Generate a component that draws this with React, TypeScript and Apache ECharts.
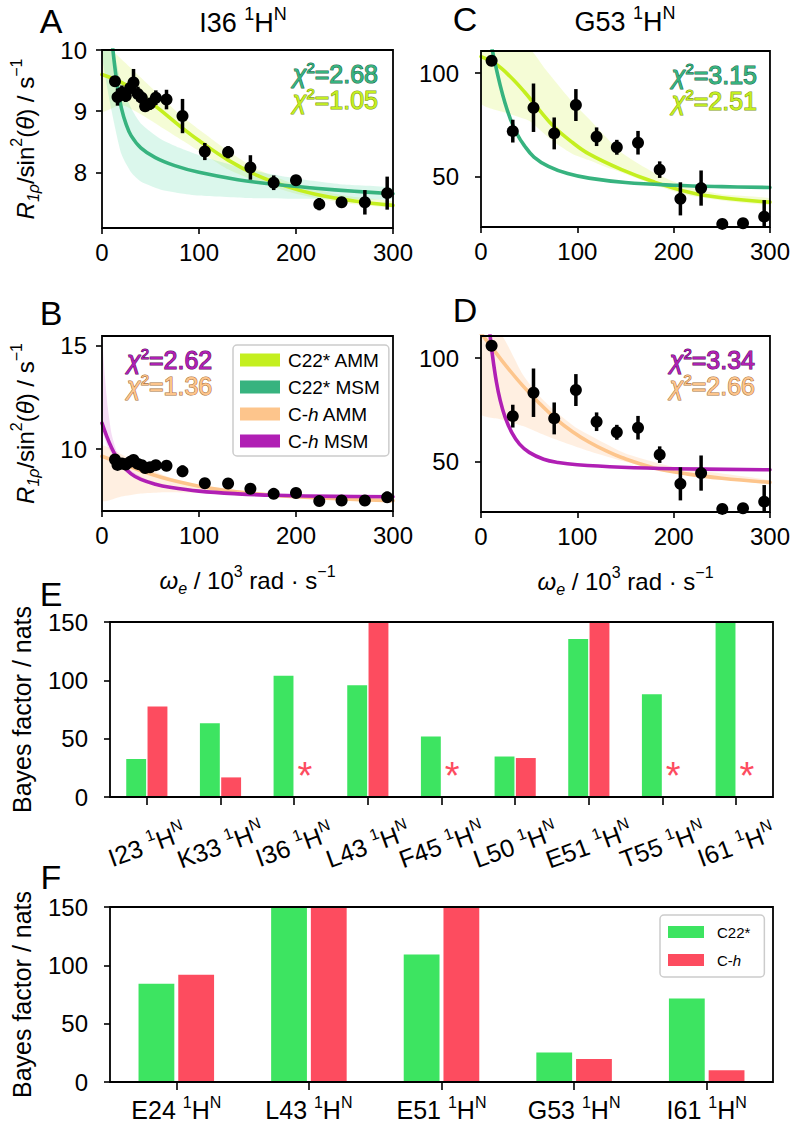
import React, { useEffect, useRef } from 'react';
import * as echarts from 'echarts';

const FONT = "'Liberation Sans', Arial, Helvetica, sans-serif";

// ---------- colours
const C22_AMM = '#c4ef1f';
const C22_MSM = '#37b37f';
const CH_AMM = '#fdc58c';
const CH_MSM = '#b01fb4';
const BAND_C22_AMM = 'rgba(208, 242, 70, 0.22)';
const BAND_C22_MSM = 'rgba(90, 220, 170, 0.22)';
const BAND_CH_AMM = 'rgba(253, 190, 130, 0.24)';
const BAND_CH_MSM = 'rgba(205, 80, 205, 0.2)';
const GREEN = '#3de461';
const RED = '#fd4c5f';

// ---------- measured points, I36 1HN (omega_e in 10^3 rad/s)
const i36X = [13.4, 16, 20.5, 24.5, 29, 32.5, 37, 41, 44.5, 49.5, 55.5, 66.5, 83, 106, 130, 153, 177, 200, 224, 247, 271, 294];
const i36Y = [9.49, 9.23, 9.3, 9.25, 9.38, 9.47, 9.28, 9.22, 9.08, 9.12, 9.22, 9.19, 8.92, 8.34, 8.33, 8.08, 7.83, 7.87, 7.48, 7.51, 7.51, 7.66];
const i36Err = [0.05, 0.14, 0.12, 0.1, 0.1, 0.22, 0.12, 0.1, 0.08, 0.1, 0.12, 0.16, 0.28, 0.14, 0.1, 0.2, 0.12, 0.07, 0.1, 0.05, 0.2, 0.27];

// ---------- measured points, G53 1HN
const g53X = [11, 33, 54.5, 76, 98.5, 120, 141, 163, 185.5, 207, 228.5, 250.5, 272, 294];
const g53Y = [106, 72, 83.3, 70.9, 84.6, 69.3, 64.2, 66.4, 53.4, 39.3, 44.5, 27.2, 27.5, 30.7];
const g53Err = [1.5, 5.5, 11.7, 7.7, 7.7, 4.5, 3.6, 5.7, 4, 8, 8.5, 1.5, 1.5, 8];

// ---------- fitted curves
const aAmmX = [0, 20, 40, 60, 80, 100, 130, 160, 190, 220, 260, 300];
const aAmmY = [9.6, 9.47, 9.27, 9.02, 8.76, 8.52, 8.2, 7.95, 7.77, 7.64, 7.53, 7.46];
const aMsmX = [10, 13, 16, 20, 25, 30, 40, 55, 75, 100, 140, 180, 220, 260, 300];
const aMsmY = [10.2, 9.75, 9.4, 9.05, 8.78, 8.6, 8.4, 8.24, 8.11, 8.0, 7.88, 7.8, 7.74, 7.69, 7.65];
const aMsmBandX = [0, 10, 20, 30, 40, 60, 80, 100, 150, 200, 250, 300];
const aMsmBandLo = [9.9, 9.0, 8.3, 8.0, 7.85, 7.72, 7.66, 7.62, 7.58, 7.57, 7.57, 7.57];
const aMsmBandHi = [10.3, 10.1, 9.45, 9.05, 8.8, 8.55, 8.4, 8.28, 8.05, 7.9, 7.8, 7.74];
const aAmmBandX = [0, 20, 40, 60, 80, 100, 130, 160, 200, 250, 300];
const aAmmBandLo = [9.0, 9.1, 8.95, 8.75, 8.55, 8.35, 8.05, 7.85, 7.65, 7.5, 7.43];
const aAmmBandHi = [10.1, 9.85, 9.55, 9.25, 8.95, 8.7, 8.35, 8.05, 7.8, 7.62, 7.52];

const bAmmX = [0, 20, 40, 60, 80, 100, 130, 160, 200, 250, 300];
const bAmmY = [9.65, 9.3, 8.95, 8.65, 8.4, 8.2, 7.98, 7.83, 7.69, 7.58, 7.5];
const bMsmX = [0, 5, 10, 15, 20, 30, 40, 55, 70, 100, 140, 180, 240, 300];
const bMsmY = [11.25, 10.6, 10.05, 9.6, 9.25, 8.8, 8.53, 8.3, 8.15, 7.96, 7.83, 7.76, 7.71, 7.69];
const bMsmBandX = [0, 3, 6, 10, 15, 20, 30, 45, 60];
const bMsmBandLo = [10.9, 10.5, 10.1, 9.8, 9.4, 9.1, 8.7, 8.4, 8.2];
const bMsmBandHi = [15.4, 13.5, 12.0, 10.7, 9.9, 9.45, 8.95, 8.55, 8.3];
const bAmmBandX = [0, 20, 40, 60, 80, 100, 150, 200, 300];
const bAmmBandLo = [7.5, 7.7, 7.85, 7.9, 7.9, 7.88, 7.75, 7.62, 7.45];
const bAmmBandHi = [10.15, 9.75, 9.25, 8.8, 8.45, 8.25, 7.95, 7.75, 7.55];

const cMsmX = [10, 15, 20, 25, 30, 37, 45, 55, 70, 90, 112, 150, 200, 250, 300];
const cMsmY = [115, 104, 94, 85.5, 78.5, 71, 65, 59.5, 55, 51.5, 49.3, 47.2, 45.9, 45.2, 44.8];
const cAmmX = [0, 15, 30, 45, 60, 76, 95, 112, 146, 180, 215, 250, 300];
const cAmmY = [108, 104.5, 98.5, 91, 82.5, 74, 66.5, 61, 53.4, 47.4, 42.6, 39.8, 37.7];
const cAmmBandX = [0, 25, 50, 65, 78, 95, 112, 130, 146, 180, 215, 250, 300];
const cAmmBandLo = [85.5, 81, 77, 71, 66, 61, 58, 54.5, 52, 46, 41, 38.5, 36.5];
const cAmmBandHi = [115, 115, 112, 103, 95.5, 86, 78, 69, 61.5, 51.8, 45, 41.5, 39.5];

const dMsmX = [9, 12, 16, 20, 25, 32, 40, 50, 65, 80, 100, 146, 200, 300];
const dMsmY = [113, 101, 88.5, 79.5, 71.5, 64, 58.5, 54.5, 51.2, 49.6, 48.5, 47.3, 46.6, 46.1];
const dAmmX = [0, 10, 26, 43.5, 60, 78, 95, 112, 130, 146, 180, 215, 250, 300];
const dAmmY = [112, 106, 96.3, 86.6, 78.5, 70.6, 64.5, 59.5, 55.2, 52, 47, 44, 42, 40];
const dAmmBandX = [0, 20, 43.5, 60, 78, 100, 120, 150, 200, 300];
const dAmmBandLo = [73, 70.5, 67.2, 64, 60.7, 57, 54, 50, 45, 39];
const dAmmBandHi = [115, 112, 92, 82, 74, 66, 61, 54, 47.5, 41];

// ---------- Bayes factors
const eResidues = ['I23', 'K33', 'I36', 'L43', 'F45', 'L50', 'E51', 'T55', 'I61'];
const eC22 = [32.5, 63.3, 104, 95.8, 51.9, 34.7, 135.5, 88.1, 150];
const eCh = [77.5, 16.8, null, 150, null, 33.4, 150, null, null];
const fResidues = ['E24', 'L43', 'E51', 'G53', 'I61'];
const fC22 = [84.3, 150, 109.2, 25.2, 71.5];
const fCh = [92, 150, 150, 19.7, 10];

// ---------- tick labels
const omegaTicks = [0, 100, 200, 300];
const yTicksA = [8, 9, 10];
const yTicksB = [10, 15];
const yTicksCD = [50, 100];
const bayesTicks = [0, 50, 100, 150];

// ---------- chi^2 annotations
const chiA = ['2.68', '1.05'];
const chiB = ['2.62', '1.36'];
const chiC = ['3.15', '2.51'];
const chiD = ['3.34', '2.66'];

const pairs = (xs: number[], ys: number[]) => xs.map((x, i) => [x, ys[i]]);

function curve(name: string, idx: number, xs: number[], ys: number[], color: string) {
  return {
    type: 'line', name, xAxisIndex: idx, yAxisIndex: idx, data: pairs(xs, ys),
    smooth: 0.4, showSymbol: false, symbol: 'none', clip: true, silent: true, z: 3,
    lineStyle: { color, width: 3.6, cap: 'round', join: 'round' }, itemStyle: { color },
  };
}

function band(idx: number, xs: number[], lo: number[], hi: number[], fill: string) {
  return {
    type: 'custom', xAxisIndex: idx, yAxisIndex: idx, silent: true, clip: true, z: 1,
    data: xs.map((x, i) => [x, lo[i], hi[i]]),
    renderItem: (params: any, api: any) => {
      if (params.dataIndex !== 0) return null;
      const pts: number[][] = [];
      for (let i = 0; i < xs.length; i++) pts.push(api.coord([xs[i], hi[i]]));
      for (let i = xs.length - 1; i >= 0; i--) pts.push(api.coord([xs[i], lo[i]]));
      return { type: 'polygon', shape: { points: pts, smooth: 0.2 }, style: { fill, stroke: null } };
    },
  };
}

function errorBars(idx: number, xs: number[], ys: number[], errs: number[]) {
  return {
    type: 'custom', xAxisIndex: idx, yAxisIndex: idx, silent: true, clip: true, z: 4,
    data: xs.map((x, i) => [x, ys[i], errs[i]]),
    renderItem: (params: any, api: any) => {
      const x = api.value(0), y = api.value(1), e = api.value(2);
      const a = api.coord([x, y - e]);
      const b = api.coord([x, y + e]);
      return { type: 'line', shape: { x1: a[0], y1: a[1], x2: b[0], y2: b[1] }, style: { stroke: '#000', lineWidth: 3.5 } };
    },
  };
}

function points(idx: number, xs: number[], ys: number[]) {
  return {
    type: 'scatter', xAxisIndex: idx, yAxisIndex: idx, data: pairs(xs, ys), symbolSize: 12,
    itemStyle: { color: '#000', opacity: 1 }, silent: true, clip: true, z: 5,
  };
}

const tick = { show: true, length: 6, lineStyle: { color: '#000', width: 1.6 } };
const lab = { color: '#000', fontFamily: FONT, fontSize: 24, lineHeight: 26 };

const yNameRich = {
  n: { fontSize: 24, fontFamily: FONT, color: '#000', lineHeight: 28 },
  i: { fontSize: 24, fontFamily: FONT, fontStyle: 'italic', color: '#000', lineHeight: 28 },
  sub: { fontSize: 16, fontFamily: FONT, color: '#000', height: 12, verticalAlign: 'bottom' },
  subi: { fontSize: 16, fontFamily: FONT, fontStyle: 'italic', color: '#000', height: 12, verticalAlign: 'bottom' },
  sup: { fontSize: 16, fontFamily: FONT, color: '#000', height: 10, verticalAlign: 'top' },
};
const R1RHO_NAME = '{i|R}{subi|1ρ}{n|/sin}{sup|2}{n|(}{i|θ}{n|) / s}{sup|−1}';
const OMEGA_NAME = '{i|ω}{subi|e}{n| / 10}{sup|3}{n| rad · s}{sup|−1}';

function xValue(gridIndex: number, withName: boolean) {
  return {
    type: 'value', gridIndex, min: 0, max: 300,
    axisLine: { show: false }, splitLine: { show: false },
    axisTick: { ...tick, customValues: omegaTicks },
    axisLabel: { ...lab, margin: 11, customValues: omegaTicks },
    ...(withName ? { name: OMEGA_NAME, nameLocation: 'middle', nameGap: 55, nameTextStyle: { rich: yNameRich } } : {}),
  };
}

function yValue(gridIndex: number, min: number, max: number, ticks: number[], margin: number, withName: boolean) {
  return {
    type: 'value', gridIndex, min, max,
    axisLine: { show: false }, splitLine: { show: false },
    axisTick: { ...tick, customValues: ticks },
    axisLabel: { ...lab, margin, customValues: ticks },
    ...(withName ? { name: R1RHO_NAME, nameLocation: 'middle', nameRotate: 90, nameGap: 63, nameTextStyle: { rich: yNameRich } } : {}),
  };
}

const catRich = {
  n: { fontSize: 25, fontFamily: FONT, color: '#000', lineHeight: 28 },
  s: { fontSize: 16, fontFamily: FONT, color: '#000', height: 12, verticalAlign: 'top' },
};
const catFormatter = (v: string) => `{n|${v} }{s|1}{n|H}{s|N}`;

function bayesY(gridIndex: number) {
  return {
    type: 'value', gridIndex, min: 0, max: 150, interval: 50,
    axisLine: { show: false }, splitLine: { show: false },
    axisTick: { ...tick, customValues: bayesTicks },
    axisLabel: { ...lab, margin: 22, customValues: bayesTicks },
    name: 'Bayes factor / nats', nameLocation: 'middle', nameRotate: 90, nameGap: 74,
    nameTextStyle: { fontFamily: FONT, fontSize: 25, color: '#000', lineHeight: 28 },
  };
}

function gText(x: number, y: number, text: string, style: any = {}) {
  return {
    type: 'text', x, y, silent: true, z: 50,
    style: {
      text, fontFamily: FONT, fontSize: 24, fill: '#000',
      align: 'center', textAlign: 'center', verticalAlign: 'middle', textVerticalAlign: 'middle',
      ...style,
    },
  };
}

function chi(x: number, y: number, value: string, fill: string, stroke: string, align: string) {
  return gText(x, y, `{c|χ}{s|2}{n|=${value}}`, {
    fill, stroke, lineWidth: 1.1, align, textAlign: align,
    rich: {
      c: { fontSize: 25, fontStyle: 'italic', fontFamily: FONT, lineHeight: 22 },
      s: { fontSize: 15, fontFamily: FONT, height: 8, verticalAlign: 'top' },
      n: { fontSize: 25, fontFamily: FONT, lineHeight: 22 },
    },
  });
}

const titleRich = {
  n: { fontSize: 27, fontFamily: FONT, fill: '#000', lineHeight: 30 },
  s: { fontSize: 18, fontFamily: FONT, fill: '#000', height: 12, verticalAlign: 'top' },
};

function buildOption() {
  const gridBase = { show: true, borderColor: '#000', borderWidth: 1.8, backgroundColor: 'transparent', z: 6 };
  const grid = [
    { left: 102, top: 50, width: 291, height: 178 },
    { left: 102, top: 336, width: 291, height: 175 },
    { left: 481, top: 51, width: 292, height: 176 },
    { left: 481, top: 336, width: 292, height: 176 },
    { left: 102, top: 622, width: 671, height: 175 },
    { left: 102, top: 907, width: 671, height: 175 },
  ].map((g) => ({ ...g, ...gridBase }));

  const xAxis = [
    xValue(0, false),
    xValue(1, true),
    xValue(2, false),
    xValue(3, true),
    {
      type: 'category', gridIndex: 4, data: eResidues,
      axisLine: { show: false },
      axisTick: { ...tick, length: 8, alignWithLabel: true },
      axisLabel: { ...lab, interval: 0, rotate: 20, align: 'center', verticalAlign: 'middle', margin: 48, formatter: catFormatter, rich: catRich },
    },
    {
      type: 'category', gridIndex: 5, data: fResidues,
      axisLine: { show: false },
      axisTick: { ...tick, length: 8, alignWithLabel: true },
      axisLabel: { ...lab, interval: 0, margin: 14, formatter: catFormatter, rich: catRich },
    },
  ];

  const yAxis = [
    yValue(0, 7.09, 10, yTicksA, 15, true),
    yValue(1, 7.0, 15.47, yTicksB, 15, true),
    yValue(2, 25.7, 110.7, yTicksCD, 22, false),
    yValue(3, 25.7, 110.7, yTicksCD, 22, false),
    bayesY(4),
    bayesY(5),
  ];

  const asterisk = {
    value: 0,
    label: { show: true, formatter: '*', position: 'top', distance: 2, fontSize: 38, lineHeight: 38, color: RED, fontFamily: FONT },
  };

  const series: any[] = [
    // A
    band(0, aAmmBandX, aAmmBandLo, aAmmBandHi, BAND_C22_AMM),
    band(0, aMsmBandX, aMsmBandLo, aMsmBandHi, BAND_C22_MSM),
    curve('C22* AMM', 0, aAmmX, aAmmY, C22_AMM),
    curve('C22* MSM', 0, aMsmX, aMsmY, C22_MSM),
    errorBars(0, i36X, i36Y, i36Err),
    points(0, i36X, i36Y),
    // B
    band(1, bAmmBandX, bAmmBandLo, bAmmBandHi, BAND_CH_AMM),
    band(1, bMsmBandX, bMsmBandLo, bMsmBandHi, BAND_CH_MSM),
    curve('C-h AMM', 1, bAmmX, bAmmY, CH_AMM),
    curve('C-h MSM', 1, bMsmX, bMsmY, CH_MSM),
    errorBars(1, i36X, i36Y, i36Err),
    points(1, i36X, i36Y),
    // C
    band(2, cAmmBandX, cAmmBandLo, cAmmBandHi, BAND_C22_AMM),
    curve('C22* AMM', 2, cAmmX, cAmmY, C22_AMM),
    curve('C22* MSM', 2, cMsmX, cMsmY, C22_MSM),
    errorBars(2, g53X, g53Y, g53Err),
    points(2, g53X, g53Y),
    // D
    band(3, dAmmBandX, dAmmBandLo, dAmmBandHi, BAND_CH_AMM),
    curve('C-h AMM', 3, dAmmX, dAmmY, CH_AMM),
    curve('C-h MSM', 3, dMsmX, dMsmY, CH_MSM),
    errorBars(3, g53X, g53Y, g53Err),
    points(3, g53X, g53Y),
    // E
    { type: 'bar', name: 'C22*', xAxisIndex: 4, yAxisIndex: 4, data: eC22, barWidth: '27%', barGap: '7%', itemStyle: { color: GREEN }, silent: true },
    { type: 'bar', name: 'C-h', xAxisIndex: 4, yAxisIndex: 4, data: eCh.map((v) => (v == null ? asterisk : v)), barWidth: '27%', barGap: '7%', itemStyle: { color: RED }, silent: true },
    // F
    { type: 'bar', name: 'C22*', xAxisIndex: 5, yAxisIndex: 5, data: fC22, barWidth: '27%', barGap: '11%', itemStyle: { color: GREEN }, silent: true },
    { type: 'bar', name: 'C-h', xAxisIndex: 5, yAxisIndex: 5, data: fCh, barWidth: '27%', barGap: '11%', itemStyle: { color: RED }, silent: true },
  ];

  const legendFormatter = (name: string) =>
    name.startsWith('C-h') ? `{f|C-}{i|h}{n|${name.slice(3)}}` : `{f|${name}}`;

  const legend = [
    {
      orient: 'vertical', left: 233, top: 345, z: 20, selectedMode: false,
      data: ['C22* AMM', 'C22* MSM', 'C-h AMM', 'C-h MSM'],
      icon: 'rect', itemWidth: 40, itemHeight: 13, itemGap: 7,
      backgroundColor: 'rgba(255,255,255,0.85)', borderColor: '#cccccc', borderWidth: 1.5, borderRadius: 4,
      padding: [5, 9, 5, 7],
      formatter: legendFormatter,
      textStyle: {
        fontFamily: FONT, fontSize: 19, color: '#000', lineHeight: 20,
        rich: {
          f: { fontFamily: FONT, fontSize: 19, lineHeight: 20, padding: [0, 0, 0, 3] },
          n: { fontFamily: FONT, fontSize: 19, lineHeight: 20 },
          i: { fontFamily: FONT, fontSize: 19, lineHeight: 20, fontStyle: 'italic' },
        },
      },
    },
    {
      orient: 'vertical', left: 660, top: 915, z: 20, selectedMode: false,
      data: ['C22*', 'C-h'],
      icon: 'rect', itemWidth: 36, itemHeight: 12, itemGap: 10,
      backgroundColor: 'rgba(255,255,255,0.85)', borderColor: '#cccccc', borderWidth: 1.5, borderRadius: 4,
      padding: [8, 14, 8, 8],
      formatter: legendFormatter,
      textStyle: {
        fontFamily: FONT, fontSize: 15, color: '#000', lineHeight: 18,
        rich: {
          f: { fontFamily: FONT, fontSize: 15, lineHeight: 18, padding: [0, 0, 0, 8] },
          n: { fontFamily: FONT, fontSize: 15, lineHeight: 18 },
          i: { fontFamily: FONT, fontSize: 15, lineHeight: 18, fontStyle: 'italic' },
        },
      },
    },
  ];

  const letter = { fontSize: 34, lineHeight: 28 };
  const graphic = [
    gText(51, 21, 'A', letter),
    gText(51, 313, 'B', letter),
    gText(465, 19, 'C', letter),
    gText(465, 310, 'D', letter),
    gText(51, 594, 'E', letter),
    gText(51, 877, 'F', letter),
    gText(243, 23, '{n|I36 }{s|1}{n|H}{s|N}', { rich: titleRich }),
    gText(625, 22, '{n|G53 }{s|1}{n|H}{s|N}', { rich: titleRich }),
    chi(378, 74, chiA[0], C22_MSM, '#1d6b4b', 'right'),
    chi(378, 100, chiA[1], C22_AMM, '#7f9a10', 'right'),
    chi(127, 360, chiB[0], CH_MSM, '#5c0b5e', 'left'),
    chi(127, 386, chiB[1], CH_AMM, '#a8703a', 'left'),
    chi(757, 75, chiC[0], C22_MSM, '#1d6b4b', 'right'),
    chi(757, 101, chiC[1], C22_AMM, '#7f9a10', 'right'),
    chi(755, 360, chiD[0], CH_MSM, '#5c0b5e', 'right'),
    chi(755, 386, chiD[1], CH_AMM, '#a8703a', 'right'),
  ];

  return {
    animation: false,
    backgroundColor: '#ffffff',
    textStyle: { fontFamily: FONT },
    grid, xAxis, yAxis, series, legend,
    graphic: { elements: graphic },
  };
}

export default function App() {
  const ref = useRef<HTMLDivElement>(null);
  useEffect(() => {
    if (!ref.current) return;
    const chart = echarts.init(ref.current, null, { renderer: 'svg' });
    chart.setOption(buildOption() as any);
    return () => chart.dispose();
  }, []);
  return (
    <div
      ref={ref}
      style={{ position: 'absolute', left: 0, top: 0, width: 793, height: 1125, background: '#fff' }}
    />
  );
}
